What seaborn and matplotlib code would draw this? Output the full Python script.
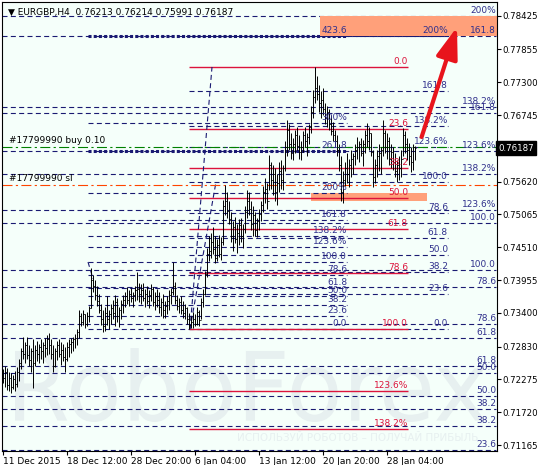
import matplotlib
matplotlib.use("Agg")
import matplotlib.pyplot as plt
import matplotlib.transforms as mtransforms
from matplotlib.textpath import TextPath
from matplotlib.patches import PathPatch, Rectangle
from matplotlib.font_manager import FontProperties
import seaborn as sns
import numpy as np

# ---- EURGBP H4 bars ----
highs = [.7245, .7250, .7247, .7240, .7238, .7235, .7242, .7248, .7262, .7281,
         .7299, .7290, .7300, .7285, .7280, .7295, .7285, .7292, .7288, .7296,
         .7290, .7298, .7302, .7306, .7295, .7285, .7280, .7293, .7295, .7290,
         .7288, .7282, .7290, .7295, .7298, .7300, .7305, .7312, .7345, .7340,
         .7345, .7338, .7342, .7352, .7416, .7404, .7395, .7385, .7372, .7355,
         .7345, .7350, .7368, .7345, .7355, .7362, .7370, .7365, .7350, .7362,
         .7370, .7375, .7384, .7378, .7382, .7376, .7385, .7409, .7390, .7388,
         .7390, .7380, .7385, .7378, .7388, .7384, .7375, .7380, .7375, .7365,
         .7372, .7360, .7368, .7378, .7382, .7426, .7392, .7370, .7365, .7368,
         .7360, .7355, .7350, .7340, .7335, .7342, .7338, .7350, .7345, .7365,
         .7380, .7410, .7450, .7470, .7475, .7485, .7470, .7465, .7472, .7468,
         .7531, .7556, .7545, .7530, .7510, .7495, .7502, .7490, .7498, .7500,
         .7490, .7520, .7548, .7545, .7530, .7520, .7510, .7500, .7515, .7530,
         .7555, .7568, .7560, .7607, .7595, .7590, .7585, .7575, .7595, .7598,
         .7590, .7630, .7666, .7660, .7645, .7635, .7650, .7655, .7640, .7630,
         .7648, .7654, .7645, .7660, .7690, .7717, .7756, .7740, .7725, .7715,
         .7720, .7695, .7690, .7685, .7675, .7662, .7650, .7640, .7625, .7605,
         .7580, .7595, .7610, .7600, .7615, .7610, .7625, .7637, .7630, .7635,
         .7632, .7650, .7661, .7655, .7645, .7615, .7600, .7615, .7625, .7620,
         .7666, .7650, .7644, .7638, .7625, .7620, .7610, .7598, .7605, .7615,
         .7653, .7648, .7635, .7628, .7620, .7625, .76214]
lows = [.7222, .7215, .7210, .7208, .7205, .7212, .7208, .7215, .7225, .7245,
        .7262, .7255, .7262, .7250, .7240, .7213, .7250, .7258, .7255, .7262,
        .7255, .7265, .7268, .7270, .7262, .7240, .7248, .7260, .7265, .7252,
        .7258, .7240, .7258, .7265, .7272, .7275, .7280, .7285, .7298, .7318,
        .7320, .7315, .7318, .7325, .7348, .7375, .7362, .7352, .7340, .7320,
        .7308, .7310, .7320, .7312, .7322, .7330, .7318, .7325, .7316, .7330,
        .7340, .7350, .7355, .7352, .7358, .7350, .7360, .7362, .7358, .7355,
        .7360, .7350, .7355, .7348, .7360, .7352, .7345, .7350, .7340, .7335,
        .7331, .7332, .7338, .7345, .7355, .7370, .7355, .7345, .7340, .7338,
        .7332, .7330, .7322, .7313, .7314, .7315, .7318, .7320, .7318, .7330,
        .7350, .7370, .7400, .7428, .7432, .7440, .7424, .7428, .7435, .7430,
        .7455, .7505, .7500, .7490, .7460, .7445, .7458, .7441, .7455, .7460,
        .7450, .7475, .7500, .7505, .7480, .7470, .7470, .7468, .7480, .7495,
        .7510, .7525, .7515, .7548, .7550, .7540, .7530, .7522, .7545, .7550,
        .7548, .7580, .7605, .7615, .7600, .7598, .7610, .7615, .7600, .7598,
        .7612, .7620, .7605, .7625, .7644, .7670, .7695, .7700, .7680, .7670,
        .7675, .7660, .7655, .7650, .7640, .7630, .7620, .7605, .7580, .7530,
        .7526, .7555, .7560, .7553, .7570, .7575, .7590, .7600, .7595, .7605,
        .7588, .7610, .7620, .7615, .7605, .7553, .7560, .7570, .7580, .7575,
        .7605, .7610, .7600, .7590, .7585, .7582, .7570, .7561, .7565, .7570,
        .7605, .7610, .7598, .7590, .7578, .7582, .75991]
closes = [.7230, .7240, .7218, .7230, .7215, .7228, .7220, .7240, .7255, .7275,
          .7270, .7285, .7268, .7260, .7275, .7255, .7278, .7270, .7282, .7275,
          .7285, .7280, .7295, .7285, .7270, .7250, .7275, .7285, .7270, .7278,
          .7265, .7262, .7282, .7288, .7290, .7295, .7298, .7308, .7335, .7325,
          .7338, .7322, .7335, .7348, .7395, .7385, .7370, .7360, .7345, .7330,
          .7318, .7340, .7330, .7338, .7348, .7340, .7358, .7335, .7345, .7355,
          .7362, .7368, .7362, .7372, .7365, .7370, .7378, .7380, .7372, .7378,
          .7365, .7372, .7360, .7370, .7380, .7358, .7368, .7362, .7350, .7358,
          .7345, .7352, .7360, .7370, .7375, .7385, .7362, .7352, .7358, .7345,
          .7340, .7348, .7330, .7320, .7325, .7330, .7322, .7342, .7328, .7358,
          .7372, .7405, .7440, .7445, .7460, .7448, .7432, .7455, .7440, .7460,
          .7520, .7530, .7512, .7498, .7470, .7485, .7465, .7475, .7488, .7470,
          .7482, .7510, .7530, .7515, .7490, .7505, .7480, .7495, .7508, .7522,
          .7545, .7550, .7530, .7590, .7565, .7575, .7545, .7560, .7580, .7565,
          .7585, .7620, .7650, .7625, .7610, .7625, .7640, .7622, .7612, .7620,
          .7640, .7630, .7638, .7655, .7680, .7705, .7720, .7710, .7695, .7700,
          .7685, .7670, .7680, .7660, .7648, .7640, .7630, .7615, .7590, .7545,
          .7565, .7585, .7575, .7590, .7600, .7605, .7615, .7620, .7625, .7610,
          .7625, .7640, .7630, .7645, .7612, .7570, .7590, .7605, .7610, .7615,
          .7645, .7620, .7630, .7600, .7612, .7595, .7580, .7590, .7585, .7600,
          .7640, .7625, .7615, .7605, .7595, .76213, .76187]
first_open = 0.7235

# ---- fibonacci objects ----
red_prices = [0.77558, 0.76509, 0.75850, 0.75342, 0.74818, 0.74074, 0.73127, 0.72079, 0.71436]
red_labels = ["0.0", "23.6", "38.2", "50.0", "61.8", "78.6", "100.0", "123.6%", "138.2%"]

n1_prices = [0.78082, 0.76611, 0.76137, 0.75427, 0.74970, 0.74700, 0.74514,
             0.74260, 0.74040, 0.73820, 0.73685, 0.73533, 0.73347, 0.73127]
n1_labels = ["423.6", "300%", "261.8", "200%", "161.8", "138.2%", "123.6%",
             "100.0", "78.6", "61.8", "50.0", "38.2", "23.6", "0.0"]

n2_prices = [0.78082, 0.77152, 0.76560, 0.76205, 0.75613, 0.75089, 0.74666,
             0.74378, 0.74091, 0.73719, 0.73127]
n2_labels = ["200%", "161.8", "138.2%", "123.6%", "100.0", "78.6", "61.8",
             "50.0", "38.2", "23.6", "0.0"]

a_prices = [0.78425, 0.76780, 0.75748, 0.75139, 0.74125, 0.73212, 0.72501, 0.71994, 0.71487]
a_labels = ["200%", "161.8", "138.2%", "123.6%", "100.0", "78.6", "61.8", "50.0", "38.2"]
b_prices = [0.78082, 0.76881, 0.76137, 0.74920, 0.73837, 0.72975, 0.72383, 0.71774, 0.71081]
b_labels = ["161.8", "138.2%", "123.6%", "100.0", "78.6", "61.8", "50.0", "38.2", "23.6"]

buy_price = 0.7621
sl_price = 0.7557
last_price = 0.76187

xtick_pos = [0, 32, 64, 96, 128, 160, 192]
xtick_labels = ["11 Dec 2015", "18 Dec 12:00", "28 Dec 20:00", "6 Jan 04:00",
                "13 Jan 12:00", "20 Jan 20:00", "28 Jan 04:00"]
ytick_vals = [0.78425, 0.77855, 0.77300, 0.76745, 0.75620, 0.75065, 0.74510,
              0.73955, 0.73400, 0.72830, 0.72275, 0.71720, 0.71165]

# ---- style ----
sns.set_style("ticks")
plt.rcParams['font.family'] = ['DejaVu Sans']
NAVY = '#1a1a72'
NAVY_TXT = '#30308c'
RED = '#dc143c'
BG = '#f5fffa'
DASH = (0, (4.5, 3))

fig = plt.figure(figsize=(5.39, 4.65), dpi=100, facecolor='white')
ax = fig.add_axes([2 / 539, 14 / 465, 495 / 539, 449 / 465])
ax.set_facecolor(BG)
ax.set_xlim(-0.5, 247)
ax.set_ylim(0.71064, 0.78657)

# watermark
tp = TextPath((0, 0), "RoboForex", size=100, prop=FontProperties(family="DejaVu Sans"))
bb = tp.get_extents()
wx0, wy0, wx1, wy1 = 13 / 495, (451 - 422) / 449, 483 / 495, (451 - 348) / 449
tr = (mtransforms.Affine2D().translate(-bb.x0, -bb.y0)
      .scale((wx1 - wx0) / bb.width, (wy1 - wy0) / bb.height)
      .translate(wx0, wy0) + ax.transAxes)
ax.add_patch(PathPatch(tp, transform=tr, fc='#e7f0f0', ec='none', zorder=0.5))
ax.text(235 / 495, (451 - 441) / 449, "ИСПОЛЬЗУЙ РОБОТОВ – ПОЛУЧАЙ ПРИБЫЛЬ",
        transform=ax.transAxes, fontsize=7.5, color='#e7f0f0', zorder=0.6)

# rectangles
ax.add_patch(Rectangle((158.5, 0.78082), 247 - 158.5, 0.78425 - 0.78082,
                       fc='#ffa07a', ec='none', zorder=2.5))
ax.add_patch(Rectangle((154, 0.75292), 212 - 154, 0.75427 - 0.75292,
                       fc='#ffa07a', ec='none', zorder=1))


def draw_levels(prices, labels, x0, x1, color, tcolor, ls=DASH, lw=0.8, heavy=()):
    for p, lab in zip(prices, labels):
        if lab in heavy:
            ax.hlines(p, x0, x1, colors=color, linestyles=(0, (1, 0.7)), lw=2.2, zorder=2)
        else:
            ax.hlines(p, x0, x1, colors=color, linestyles=ls, lw=lw, zorder=2)
        ax.annotate(lab, (x1, p), xytext=(0, 0.6), textcoords='offset points',
                    ha='right', va='bottom', fontsize=6.5, color=tcolor, zorder=5)


draw_levels(a_prices, a_labels, -0.5, 246.6, NAVY, NAVY_TXT)
draw_levels(b_prices, b_labels, -0.5, 246.6, NAVY, NAVY_TXT)
draw_levels(n1_prices, n1_labels, 42.5, 172, NAVY, NAVY_TXT, heavy=("423.6", "261.8"))
draw_levels(n2_prices, n2_labels, 93, 222.5, NAVY, NAVY_TXT)
draw_levels(red_prices, red_labels, 93, 202.5, RED, RED, ls='solid', lw=1.0)

# trend lines of the fib objects
ax.plot([93.5, 104.5], [red_prices[6], red_prices[0]], color=NAVY, ls=DASH, lw=0.8, zorder=2)
ax.plot([93.5, 106.5], [n2_prices[-1], n2_prices[4]], color=NAVY, ls=DASH, lw=0.8, zorder=2)
ax.plot([42.5, 45], [n1_prices[7], 0.7398], color=NAVY, ls=DASH, lw=0.8, zorder=2)

# order lines
ax.axhline(buy_price, color='#008000', ls=(0, (9, 3, 2, 3)), lw=0.8, zorder=2)
ax.axhline(sl_price, color='#ff4500', ls=(0, (9, 3, 2, 3)), lw=0.8, zorder=2)
ax.annotate("#17799990 buy 0.10", (3, buy_price), xytext=(0, 1), textcoords='offset points',
            va='bottom', fontsize=6.5, color='black', zorder=5)
ax.annotate("#17799990 sl", (3, sl_price), xytext=(0, 1), textcoords='offset points',
            va='bottom', fontsize=6.5, color='black', zorder=5)

# OHLC bars
idx = np.arange(len(closes))
opens = np.r_[first_open, closes[:-1]]
ax.vlines(idx, lows, highs, colors='black', lw=0.7, zorder=3)
ax.hlines(opens, idx - 0.5, idx, colors='black', lw=0.7, zorder=3)
ax.hlines(closes, idx, idx + 0.5, colors='black', lw=0.7, zorder=3)

# arrow
ax.annotate('', xy=(227, 0.78234), xytext=(209.3, 0.76374),
            arrowprops=dict(arrowstyle='-|>,head_length=1.6,head_width=0.55',
                            color='#e8141c', lw=3, mutation_scale=12,
                            shrinkA=0, shrinkB=0), zorder=6)

# header
ax.text(6 / 495, 1 - 10 / 449, "\u25BC EURGBP,H4  0.76213 0.76214 0.75991 0.76187",
        transform=ax.transAxes, fontsize=6.5, va='center', color='black', zorder=7)

# axes
ax.yaxis.tick_right()
ax.set_yticks(ytick_vals)
ax.set_yticklabels([f"{v:.5f}" for v in ytick_vals])
ax.set_xticks(xtick_pos)
ax.set_xticklabels(xtick_labels)
for lab in ax.get_xticklabels():
    lab.set_horizontalalignment('left')
ax.tick_params(axis='x', labelsize=6.5, length=3, width=0.8, color='black',
               labelcolor='black', pad=1.5, direction='out')
ax.tick_params(axis='y', labelsize=6.2, length=3, width=0.8, color='black',
               labelcolor='black', pad=1, direction='out')
for s in ax.spines.values():
    s.set_color('black')
    s.set_linewidth(0.8)

bx = mtransforms.blended_transform_factory(ax.transAxes, ax.transData)
ax.text(1.002, last_price, "0.76187", transform=bx, fontsize=6.2, color='white',
        va='center', ha='left', zorder=8,
        bbox=dict(boxstyle='square,pad=0.25', fc='black', ec='black'))

fig.savefig("out.png", dpi=100, facecolor='white')
